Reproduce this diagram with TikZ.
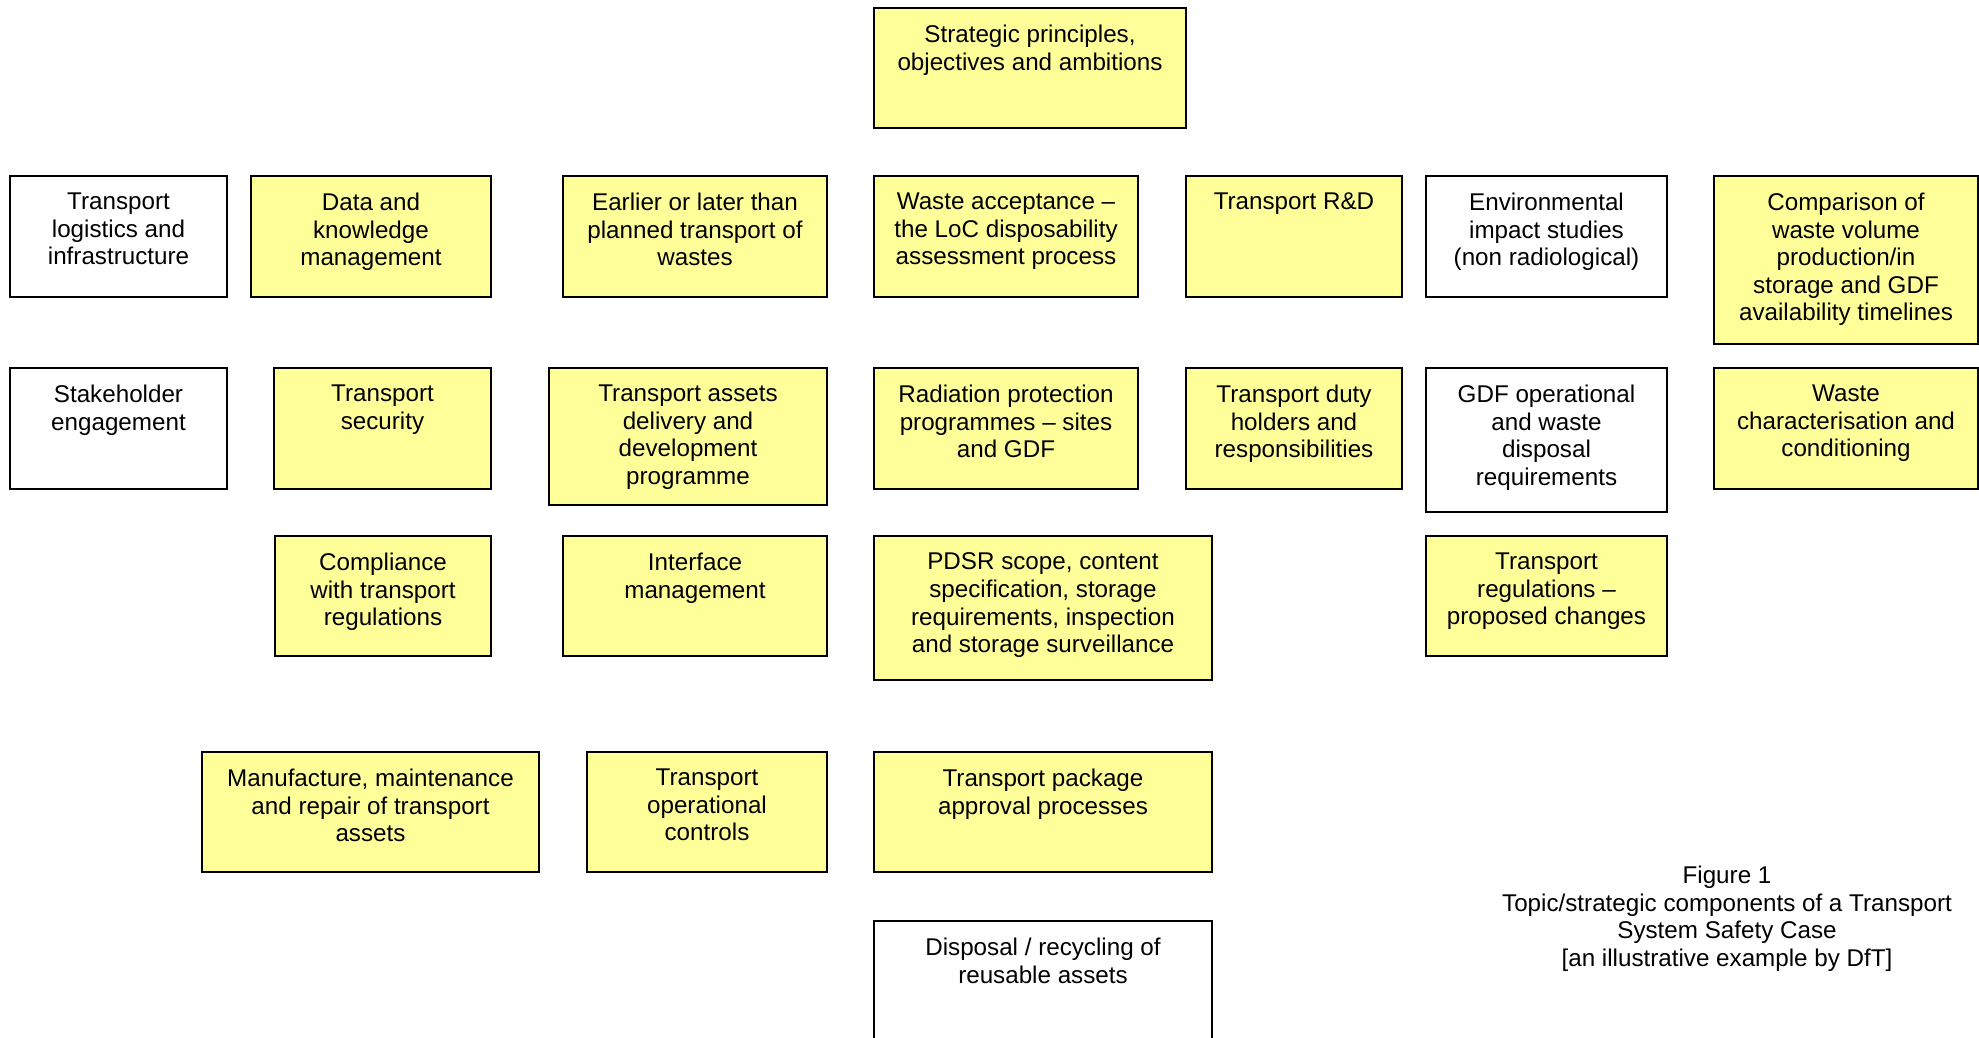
\documentclass[tikz,border=0pt]{standalone}
\usepackage{fontspec}
\setmainfont{Liberation Sans}
\definecolor{boxyellow}{HTML}{FFFF99}
\newcommand\bx[7]{%
  \node[#6] (#1) at ({(#2+#4)/2},{(#3+#5)/2})
    {\parbox[c][\dimexpr #5pt-#3pt\relax][t]{\dimexpr #4pt-#2pt\relax}{\centering\vspace*{17pt}#7\par}};}
\tikzset{
  ybox/.style={draw=black, line width=2pt, fill=boxyellow, inner sep=0pt, outer sep=0pt},
  wbox/.style={draw=black, line width=2pt, fill=white, inner sep=0pt, outer sep=0pt},
  every node/.append style={font=\fontsize{24.2}{27.6}\selectfont}
}
\begin{document}
\begin{tikzpicture}[x=1pt,y=-1pt]
\useasboundingbox (0,0) rectangle (1979,1038);
\clip (0,0) rectangle (1979,1038);
\fill[white] (0,0) rectangle (1979,1038);
% top
\bx{sp}{874}{8}{1186}{128}{ybox}{Strategic principles,\\ objectives and ambitions}
% row 1
\bx{tl}{10}{176}{227}{297}{wbox}{Transport\\ logistics and\\ infrastructure}
\bx{dk}{251}{176}{491}{297}{ybox}{Data and\\ knowledge\\ management}
\bx{el}{563}{176}{827}{297}{ybox}{Earlier or later than\\ planned transport of\\ wastes}
\bx{wa}{874}{176}{1138}{297}{ybox}{Waste acceptance –\\ the LoC disposability\\ assessment process}
\bx{rd}{1186}{176}{1402}{297}{ybox}{Transport R\&D}
\bx{env}{1426}{176}{1667}{297}{wbox}{Environmental\\ impact studies\\ (non radiological)}
\bx{cmp}{1714}{176}{1978}{344}{ybox}{Comparison of\\ waste volume\\ production/in\\ storage and GDF\\ availability timelines}
% row 2
\bx{sh}{10}{368}{227}{489}{wbox}{Stakeholder\\ engagement}
\bx{ts}{274}{368}{491}{489}{ybox}{Transport\\ security}
\bx{tad}{549}{368}{827}{505}{ybox}{Transport assets\\ delivery and\\ development\\ programme}
\bx{rp}{874}{368}{1138}{489}{ybox}{Radiation protection\\ programmes – sites\\ and GDF}
\bx{tdh}{1186}{368}{1402}{489}{ybox}{Transport duty\\ holders and\\ responsibilities}
\bx{gdf}{1426}{368}{1667}{512}{wbox}{GDF operational\\ and waste\\ disposal\\ requirements}
\bx{wc}{1714}{368}{1978}{489}{ybox}{Waste\\ characterisation and\\ conditioning}
% row 3
\bx{ctr}{275}{536}{491}{656}{ybox}{Compliance\\ with transport\\ regulations}
\bx{im}{563}{536}{827}{656}{ybox}{Interface\\ management}
\bx{pdsr}{874}{536}{1212}{680}{ybox}{PDSR scope, content\\ specification, storage\\ requirements, inspection\\ and storage surveillance}
\bx{trc}{1426}{536}{1667}{656}{ybox}{Transport\\ regulations –\\ proposed changes}
% row 4
\bx{mm}{202}{752}{539}{872}{ybox}{Manufacture, maintenance\\ and repair of transport\\ assets}
\bx{toc}{587}{752}{827}{872}{ybox}{Transport\\ operational\\ controls}
\bx{tpa}{874}{752}{1212}{872}{ybox}{Transport package\\ approval processes}
% bottom
\bx{dr}{874}{921}{1212}{1080}{wbox}{Disposal / recycling of\\ reusable assets}
% caption
\node[anchor=north, align=center, inner sep=0pt] (cap) at (1727,866)
  {Figure 1\\ Topic/strategic components of a Transport\\ System Safety Case\\ {[an illustrative example by DfT]}};
\end{tikzpicture}
\end{document}
